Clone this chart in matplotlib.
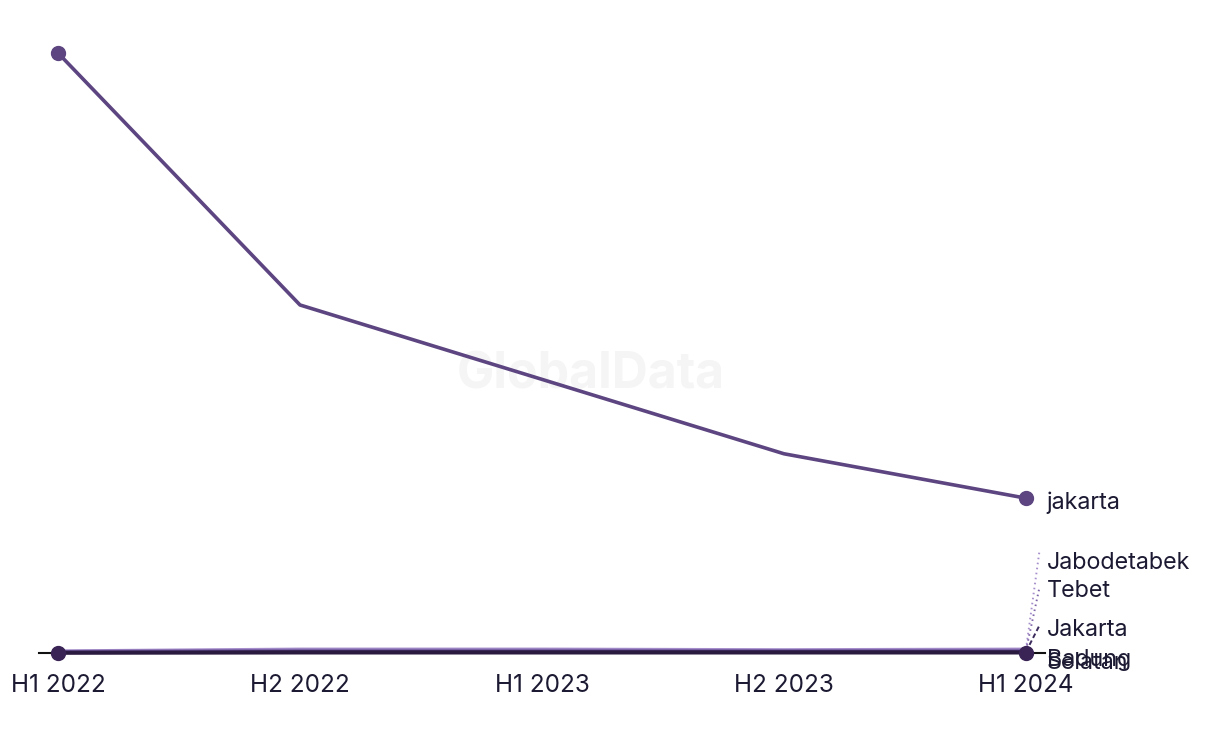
import numpy as np
import matplotlib.pyplot as plt

periods = ["H1 2022", "H2 2022", "H1 2023", "H2 2023", "H1 2024"]
jakarta = [100, 58, 45.6, 33.2, 25.8]
jabodetabek = [0.3, 0.6, 0.6, 0.5, 0.6]
tebet = [0.2, 0.4, 0.4, 0.35, 0.4]
jakarta_selatan = [0.1, 0.2, 0.2, 0.2, 0.2]
badung = [0.0, 0.05, 0.05, 0.05, 0.05]

small = [
    ("Jabodetabek", jabodetabek, "#a68fcc", 15.0, (0.8, 1.8)),
    ("Tebet", tebet, "#7d63a8", 10.3, (0.8, 1.8)),
    ("Jakarta\nSelatan", jakarta_selatan, "#3b2a5c", 1.05, (2.5, 1.5)),
    ("Badung", badung, "#2a1a40", -1.2, None),
]

plt.rcParams['font.family'] = ['Inter', 'DejaVu Sans']
fig = plt.figure(figsize=(12.2, 7.44), dpi=100)
ax = fig.add_axes([0, 0, 1, 1])
x = np.arange(len(periods))
text_c = "#1c1a33"

ax.text(2.2, 46.3, "GlobalData", fontsize=36, fontweight="bold", color="#f5f5f5",
        ha="center", va="center", zorder=0)

ax.plot([-0.08, 4.08], [0, 0], color="#111111", lw=1.5, zorder=2)

for name, vals, col, ly, dash in small:
    ax.plot(x, vals, color=col, lw=2.6, zorder=3)
ax.plot(x[[0, -1]], [badung[0], badung[-1]], "o", color="#3a2456", ms=10, zorder=5)

ax.plot(x, jakarta, color="#5c4580", lw=2.6, zorder=4)
ax.plot(x[[0, -1]], [jakarta[0], jakarta[-1]], "o", color="#5c4580", ms=10, zorder=5)

ax.text(4.086, jakarta[-1] - 0.8, "jakarta", fontsize=16.8, color=text_c, va="center")

for name, vals, col, ly, dash in small:
    if dash is not None:
        ax.plot([4.0, 4.055], [vals[-1], ly + (1.8 if name == "Jabodetabek" else 3.5 if "Selatan" in name else 0.5)],
                color=col, lw=1.4, ls=(0, dash), zorder=3)
    ax.text(4.086, ly, name, fontsize=16.8, color=text_c, va="center", linespacing=1.68)

ax.set_xlim(-0.2397, 4.8017)
ax.set_ylim(-15.17, 108.83)
for i, p in enumerate(periods):
    ax.text(i, -5.5, p, fontsize=17.5, color=text_c, ha="center", va="center")
ax.axis("off")

plt.savefig("out.png", dpi=100)
